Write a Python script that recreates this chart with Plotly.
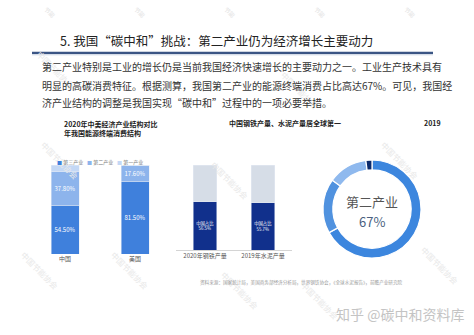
import plotly.graph_objects as go

W, H = 474, 335
FONT = "Noto Sans CJK SC"

# ---------------- data ----------------
title_text = "5. 我国“碳中和”挑战：第二产业仍为经济增长主要动力"
para_lines = [
    "第二产业特别是工业的增长仍是当前我国经济快速增长的主要动力之一。工业生产技术具有",
    "明显的高碳消费特征。根据测算，我国第二产业的能源终端消费占比高达67%。可见，我国经",
    "济产业结构的调整是我国实现“碳中和”过程中的一项必要举措。",
]

# chart 1: 2020 China / US industry structure
c1_title = ["2020年中美经济产业结构对比", "年我国能源终端消费结构"]
c1_countries = ["中国", "美国"]
c1_series = ["第三产业", "第二产业", "第一产业"]
c1_tertiary = [54.5, 81.5]
c1_secondary = [37.8, 17.6]
c1_primary = [7.7, 0.9]

# chart 2: China share of global steel / cement output
c2_title = "中国钢铁产量、水泥产量居全球第一"
c2_cats = ["2020年钢铁产量", "2019年水泥产量"]
c2_china_share = [56.5, 55.7]

# chart 3: 2019 final energy consumption structure
c3_title = "2019"
c3_labels = ["第二产业", "第三产业", "生活消费", "第一产业"]
c3_values = [67, 18, 13, 2]

source_text = "资料来源：国家统计局，美国商务部经济分析局，世界钢铁协会，《全球水泥报告》，前瞻产业研究院"
brand_text = "知乎 @碳中和资料库"

# ---------------- helpers ----------------
def px(x):
    return x / W

def py(y):
    return 1 - y / H

C1_COLORS = ["#3f80dc", "#8db4ec", "#c4d8f5"]
NAVY = "#11308c"
GRAY = "#d6dde7"
PIE_COLORS = ["#3c86de", "#5092df", "#8fb9ee", "#0b2a6b"]

fig = go.Figure()

# ---- chart 1 stacked bars ----
c1_vals = [c1_tertiary, c1_secondary, c1_primary]
for name, vals, col in zip(c1_series, c1_vals, C1_COLORS):
    fig.add_trace(go.Bar(
        x=c1_countries, y=vals, name=name, marker_color=col,
        width=0.4, xaxis="x", yaxis="y",
        text=[f"{v:.2f}%" if v >= 5 else "" for v in vals],
        textposition="inside", insidetextanchor="middle", textangle=0,
        textfont=dict(size=6, color="white", family=FONT),
        showlegend=False, hoverinfo="skip",
    ))

# ---- chart 2 stacked bars ----
fig.add_trace(go.Bar(
    x=c2_cats, y=c2_china_share, marker_color=NAVY, width=0.41,
    xaxis="x2", yaxis="y2",
    text=[f"中国占比<br>{v}%" for v in c2_china_share],
    textposition="inside", insidetextanchor="middle", textangle=0,
    textfont=dict(size=5.5, color="white", family=FONT),
    showlegend=False, hoverinfo="skip",
))
fig.add_trace(go.Bar(
    x=c2_cats, y=[100 - v for v in c2_china_share], marker_color=GRAY, width=0.41,
    xaxis="x2", yaxis="y2", showlegend=False, hoverinfo="skip",
))

# ---- chart 3 donut ----
cx, cy, r = 372, 209, 49
fig.add_trace(go.Pie(
    labels=c3_labels, values=c3_values, sort=False, direction="clockwise",
    rotation=0, hole=0.8, textinfo="none", hoverinfo="skip",
    marker=dict(colors=PIE_COLORS, line=dict(color="white", width=1.2)),
    domain=dict(x=[px(cx - r), px(cx + r)], y=[py(cy + r), py(cy - r)]),
    showlegend=False,
))

axis_common = dict(showgrid=False, zeroline=False, fixedrange=True)
fig.update_layout(
    width=W, height=H, margin=dict(l=0, r=0, t=0, b=0),
    paper_bgcolor="white", plot_bgcolor="white",
    barmode="stack", bargap=0.5,
    font=dict(family=FONT, color="#333"),
    xaxis=dict(domain=[px(30), px(170)], anchor="y", range=[-0.5, 1.5],
               showline=False, ticks="", tickfont=dict(size=6, color="#555"),
               **axis_common),
    yaxis=dict(domain=[py(254), py(165)], anchor="x", range=[0, 100],
               showticklabels=False, **axis_common),
    xaxis2=dict(domain=[px(176), px(292)], anchor="y2", range=[-0.5, 1.5],
                showline=True, linecolor="#d4d4d4", linewidth=1, ticks="",
                tickfont=dict(size=6, color="#555"), **axis_common),
    yaxis2=dict(domain=[py(250), py(165)], anchor="x2", range=[0, 100],
                showticklabels=False, **axis_common),
)

ann = []

def add_text(x, y, text, size, color="#333", xanchor="left", bold=False, angle=0, opacity=1):
    ann.append(dict(
        x=px(x), y=py(y), xref="paper", yref="paper", text=f"<b>{text}</b>" if bold else text,
        showarrow=False, xanchor=xanchor, yanchor="middle", textangle=angle,
        font=dict(size=size, color=color, family=FONT), opacity=opacity,
    ))

# watermarks
wm = "中国节能协会"
for (x, y) in [(60, 160), (40, 270), (130, 270), (230, 180), (240, 290), (320, 300),
               (440, 265), (400, 160), (55, 70), (300, 90)]:
    add_text(x, y, wm, 8, color="#e8e8e8", xanchor="center", angle=45)
for x in [50, 140, 230, 320, 410]:
    add_text(x, 12, "节能", 6, color="#e2e2e2", xanchor="center", angle=45)

# header
add_text(58, 40, title_text, 12.5, color="#222")
fig.add_shape(type="line", xref="paper", yref="paper",
              x0=px(32), x1=px(433), y0=py(53), y1=py(53),
              line=dict(color="#3b5584", width=2.5))
fig.add_shape(type="line", xref="paper", yref="paper",
              x0=px(32), x1=px(433), y0=py(55), y1=py(55),
              line=dict(color="#dfe6f0", width=1))
for i, line in enumerate(para_lines):
    add_text(40, 67 + 18 * i, line, 10, color="#333")

# chart titles
add_text(62, 124, c1_title[0], 7, color="#222", bold=True)
add_text(62, 133, c1_title[1], 7, color="#222", bold=True)
add_text(227, 123, c2_title, 7, color="#222", bold=True)
add_text(432, 123, c3_title, 7, color="#222", xanchor="center", bold=True)

# chart 1 legend
for x, name, col in zip([55, 85, 115], c1_series, C1_COLORS):
    add_text(x, 162, f"<span style='color:{col}'>■</span> {name}", 5, color="#777")

# donut center
add_text(cx, 201, "第二产业", 13, color="#555", xanchor="center")
add_text(cx, 221, f"{c3_values[0]}%", 13, color="#4a5f80", xanchor="center")

# source and brand
add_text(198, 282, source_text, 4.6, color="#9a9a9a")
add_text(400, 314, brand_text, 14, color="#c4c4c4", xanchor="center")

fig.update_layout(annotations=ann)
fig.write_html("out.html")
